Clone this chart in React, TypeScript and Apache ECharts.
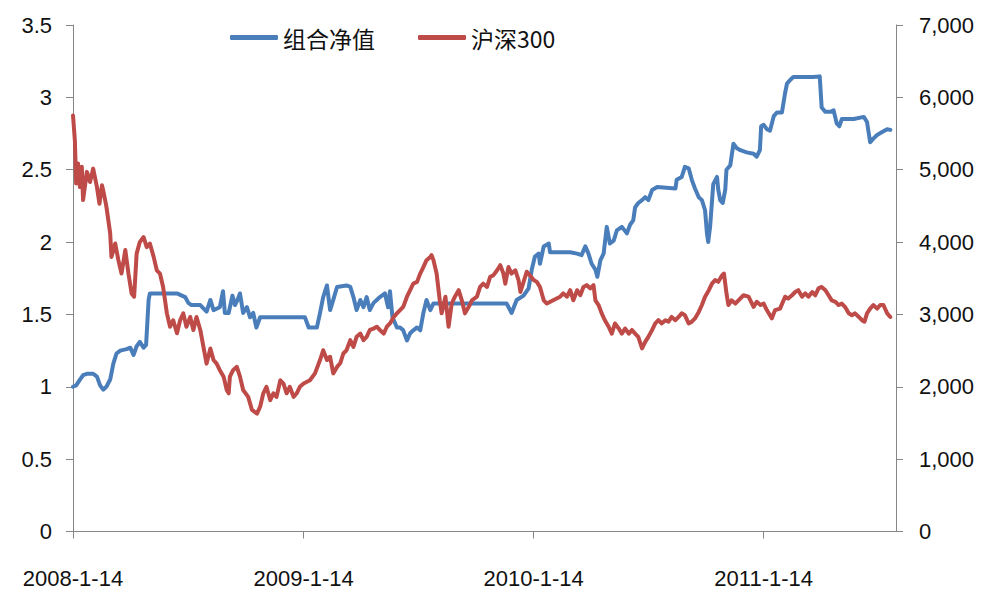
import React, { useEffect, useRef } from "react";
import * as echarts from "echarts";

// x axis: calendar days counted from 2008-01-14
const START_UTC = Date.UTC(2008, 0, 14);
const X_LAST_DAY = 1306;
const xTickLabels = ["2008-1-14", "2009-1-14", "2010-1-14", "2011-1-14"];
const legendNames = ["组合净值", "沪深300"];

// 组合净值 (left axis)
const navDays = [
  0, 5, 11, 16, 22, 32, 38, 43, 48, 53, 59, 64, 69, 75, 85, 91, 96, 101, 106, 112, 116, 120, 122, 138, 165, 178, 183, 188,
  202, 212, 218, 223, 233, 238, 241, 247, 253, 257, 260, 265, 270, 276, 281, 286, 291, 297, 368, 374, 387, 392, 397, 403,
  408, 413, 419, 434, 440, 445, 450, 456, 461, 466, 471, 477, 482, 487, 495, 500, 503, 507, 514, 519, 524, 530, 535, 540,
  546, 551, 556, 561, 567, 572, 688, 696, 704, 715, 723, 728, 733, 739, 741, 747, 755, 757, 784, 789, 800, 807, 813, 818,
  823, 829, 832, 837, 842, 847, 852, 858, 863, 871, 879, 884, 889, 892, 897, 903, 908, 913, 919, 927, 956, 958, 966, 971,
  977, 982, 987, 993, 998, 1003, 1006, 1008, 1011, 1016, 1022, 1024, 1027, 1031, 1035, 1037, 1043, 1048, 1053, 1059, 1069,
  1080, 1085, 1090, 1092, 1096, 1101, 1106, 1112, 1117, 1125, 1130, 1133, 1138, 1143, 1175, 1185, 1188, 1194, 1202, 1207,
  1212, 1216, 1220, 1239, 1255, 1260, 1265, 1270, 1276, 1284, 1292, 1297,
];
const navValues = [
  1.0, 1.01, 1.05, 1.08, 1.09, 1.09, 1.07, 1.01, 0.98, 1.0, 1.05, 1.16, 1.23, 1.25, 1.26, 1.27, 1.22, 1.28, 1.31, 1.27, 1.29,
  1.6, 1.645, 1.645, 1.645, 1.62, 1.58, 1.565, 1.565, 1.52, 1.6, 1.53, 1.55, 1.66, 1.51, 1.51, 1.63, 1.565, 1.59, 1.645, 1.51,
  1.55, 1.48, 1.51, 1.41, 1.48, 1.48, 1.41, 1.41, 1.51, 1.62, 1.7, 1.53, 1.6, 1.69, 1.7, 1.69, 1.62, 1.53, 1.6, 1.55, 1.62,
  1.53, 1.58, 1.6, 1.62, 1.645, 1.55, 1.66, 1.48, 1.41, 1.41, 1.39, 1.32, 1.37, 1.39, 1.41, 1.39, 1.51, 1.6, 1.53, 1.576,
  1.576, 1.51, 1.6, 1.63, 1.68, 1.81, 1.9, 1.92, 1.85, 1.97, 1.99, 1.93, 1.93, 1.93, 1.92, 1.91, 1.97, 1.92, 1.85, 1.81, 1.76,
  1.875, 1.92, 2.105, 1.99, 2.01, 2.08, 2.105, 2.06, 2.12, 2.15, 2.24, 2.27, 2.29, 2.31, 2.29, 2.36, 2.38, 2.37, 2.43, 2.45,
  2.52, 2.51, 2.43, 2.37, 2.31, 2.29, 2.22, 2.06, 2.0, 2.105, 2.4, 2.45, 2.36, 2.29, 2.27, 2.36, 2.5, 2.53, 2.68, 2.65, 2.635,
  2.62, 2.61, 2.59, 2.635, 2.8, 2.81, 2.78, 2.77, 2.87, 2.895, 2.895, 3.03, 3.095, 3.12, 3.14, 3.14, 3.145, 2.93, 2.9, 2.9,
  2.91, 2.82, 2.8, 2.85, 2.85, 2.865, 2.83, 2.69, 2.715, 2.74, 2.76, 2.78, 2.775,
];

// 沪深300 (right axis)
const hsDays = [
  0, 3, 5, 8, 11, 14, 16, 22, 27, 32, 38, 42, 46, 49, 53, 59, 61, 67, 72, 77, 83, 88, 93, 97, 101, 106, 112, 117, 122, 128,
  133, 138, 143, 149, 154, 159, 165, 170, 175, 180, 186, 191, 196, 202, 207, 212, 218, 223, 228, 233, 239, 244, 247, 249,
  254, 260, 265, 270, 278, 284, 292, 297, 302, 307, 313, 318, 323, 329, 334, 339, 344, 350, 355, 360, 366, 376, 384, 392,
  397, 403, 408, 413, 419, 424, 429, 434, 440, 445, 450, 456, 461, 466, 471, 477, 482, 487, 493, 498, 503, 509, 514, 519,
  524, 530, 535, 540, 546, 551, 556, 561, 567, 569, 572, 577, 582, 585, 591, 596, 601, 606, 612, 617, 622, 628, 633, 641,
  646, 651, 657, 662, 667, 673, 678, 683, 686, 691, 696, 702, 707, 710, 715, 720, 725, 731, 736, 741, 747, 752, 762, 773,
  778, 784, 789, 794, 800, 805, 810, 815, 821, 826, 829, 834, 839, 844, 850, 855, 860, 866, 871, 876, 882, 887, 892, 897,
  903, 908, 913, 919, 924, 929, 934, 940, 945, 950, 956, 961, 966, 971, 977, 982, 987, 993, 998, 1003, 1009, 1014, 1019,
  1024, 1030, 1033, 1037, 1040, 1045, 1051, 1056, 1064, 1072, 1080, 1085, 1091, 1096, 1101, 1109, 1114, 1122, 1130, 1135,
  1141, 1146, 1151, 1157, 1162, 1167, 1173, 1178, 1183, 1188, 1194, 1199, 1204, 1210, 1215, 1220, 1225, 1231, 1236, 1241,
  1247, 1252, 1256, 1260, 1265, 1270, 1276, 1281, 1286, 1292, 1297,
];
const hsValues = [
  5750, 5400, 4810, 5085, 4760, 5040, 4580, 4970, 4830, 5015, 4760, 4530, 4785, 4670, 4490, 4120, 3795, 3980, 3750, 3565,
  3890, 3565, 3290, 3245, 3840, 4000, 4070, 3930, 3980, 3795, 3610, 3565, 3380, 3015, 2830, 2920, 2740, 2920, 3015, 2830,
  2965, 2785, 2965, 2785, 2550, 2320, 2530, 2370, 2320, 2230, 2140, 1955, 1910, 2140, 2230, 2276, 2140, 1955, 1860, 1680,
  1630, 1725, 1910, 2000, 1815, 1910, 1860, 2090, 2045, 1910, 2000, 1860, 1910, 2000, 2045, 2090, 2185, 2370, 2505, 2370,
  2415, 2185, 2275, 2325, 2460, 2505, 2645, 2550, 2690, 2735, 2645, 2690, 2785, 2805, 2830, 2785, 2735, 2830, 2875, 2965,
  3015, 3060, 3105, 3245, 3335, 3425, 3450, 3565, 3655, 3750, 3795, 3820, 3750, 3565, 3195, 3015, 3245, 2830, 3150, 3245,
  3335, 3195, 3015, 3105, 3195, 3245, 3380, 3425, 3380, 3520, 3540, 3610, 3680, 3565, 3425, 3655, 3565, 3610, 3475, 3310,
  3450, 3590, 3540, 3475, 3450, 3380, 3195, 3150, 3195, 3245, 3290, 3245, 3335, 3195, 3335, 3265, 3380, 3405, 3360, 3405,
  3195, 3130, 3015, 2920, 2830, 2735, 2875, 2805, 2735, 2805, 2735, 2785, 2735, 2690, 2530, 2620, 2690, 2785, 2875, 2920,
  2875, 2920, 2900, 2965, 2920, 2965, 3015, 2990, 2875, 2900, 2945, 3035, 3130, 3245, 3335, 3425, 3475, 3450, 3540, 3565,
  3290, 3130, 3195, 3150, 3195, 3265, 3245, 3105, 3175, 3130, 3150, 3060, 2945, 3060, 3080, 3245, 3220, 3265, 3310, 3335,
  3245, 3290, 3245, 3310, 3265, 3360, 3380, 3335, 3265, 3195, 3175, 3130, 3150, 3105, 3015, 2990, 3015, 2965, 2920, 2900,
  3015, 3080, 3130, 3080, 3130, 3130, 3015, 2965,
];

function buildDayCategories(): string[] {
  const out: string[] = [];
  for (let i = 0; i <= X_LAST_DAY; i++) {
    const d = new Date(START_UTC + i * 86400000);
    out.push(`${d.getUTCFullYear()}-${d.getUTCMonth() + 1}-${d.getUTCDate()}`);
  }
  return out;
}

export default function App() {
  const ref = useRef<HTMLDivElement>(null);
  useEffect(() => {
    if (!ref.current) return;
    const chart = echarts.init(ref.current, null, { renderer: "svg" });
    const cats = buildDayCategories();
    const tickIdx = new Set<number>(xTickLabels.map((l) => cats.indexOf(l)));
    const axisColor = "#868686";
    const labelFont = "'Liberation Sans', Arial, sans-serif";
    chart.setOption({
      animation: false,
      backgroundColor: "#ffffff",
      legend: {
        data: legendNames,
        icon: "roundRect",
        left: 225,
        top: 21,
        itemWidth: 48,
        itemHeight: 5,
        itemGap: 43,
        textStyle: { fontSize: 23, color: "#111", fontFamily: "'Noto Sans CJK SC', sans-serif" },
      },
      grid: { left: 73, right: 94, top: 25, bottom: 71.5 },
      xAxis: {
        type: "category",
        data: cats,
        boundaryGap: false,
        axisLine: { lineStyle: { color: axisColor, width: 1 } },
        axisTick: { show: true, interval: (i: number) => tickIdx.has(i), length: 7, lineStyle: { color: axisColor } },
        axisLabel: {
          interval: (i: number) => tickIdx.has(i),
          fontSize: 22,
          color: "#111",
          margin: 36,
          fontFamily: labelFont,
        },
        splitLine: { show: false },
      },
      yAxis: [
        {
          type: "value",
          position: "left",
          min: 0,
          max: 3.5,
          interval: 0.5,
          axisLine: { show: true, lineStyle: { color: axisColor } },
          axisTick: { show: true, length: 7, lineStyle: { color: axisColor } },
          axisLabel: { fontSize: 22, color: "#111", margin: 21, fontFamily: labelFont },
          splitLine: { show: false },
        },
        {
          type: "value",
          position: "right",
          min: 0,
          max: 7000,
          interval: 1000,
          axisLine: { show: true, lineStyle: { color: axisColor } },
          axisTick: { show: true, length: 7, lineStyle: { color: axisColor } },
          axisLabel: {
            fontSize: 22,
            color: "#111",
            margin: 23,
            fontFamily: labelFont,
            formatter: (v: number) => v.toLocaleString("en-US"),
          },
          splitLine: { show: false },
        },
      ],
      series: [
        {
          name: legendNames[0],
          type: "line",
          yAxisIndex: 0,
          symbol: "none",
          data: navDays.map((d, i) => [d, navValues[i]]),
          lineStyle: { color: "#4A7EBB", width: 4, cap: "round", join: "round" },
          itemStyle: { color: "#4A7EBB" },
          z: 2,
        },
        {
          name: legendNames[1],
          type: "line",
          yAxisIndex: 1,
          symbol: "none",
          data: hsDays.map((d, i) => [d, hsValues[i]]),
          lineStyle: { color: "#BE4B48", width: 4, cap: "round", join: "round" },
          itemStyle: { color: "#BE4B48" },
          z: 3,
        },
      ],
    });
    return () => chart.dispose();
  }, []);
  return <div ref={ref} style={{ position: "fixed", left: 0, top: 0, width: 990, height: 603 }} />;
}
